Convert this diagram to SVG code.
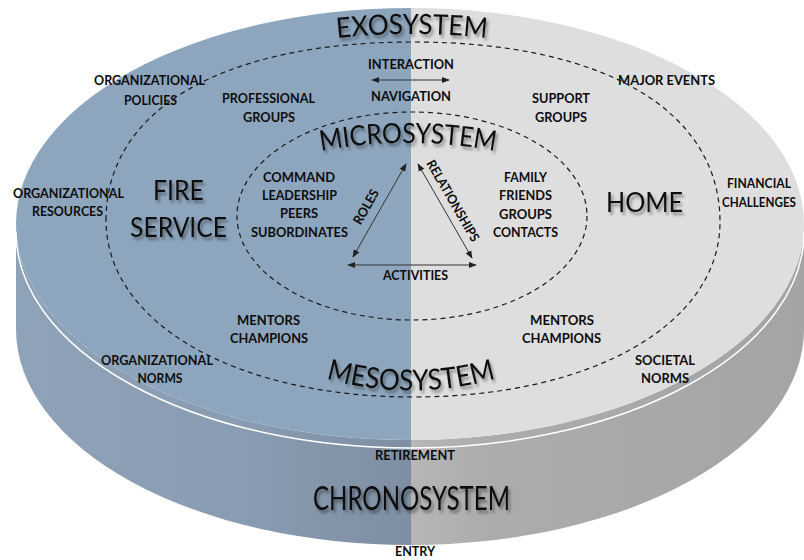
<svg xmlns="http://www.w3.org/2000/svg" width="804" height="560" viewBox="0 0 804 560">
<defs>
<style>
.s{font-family:Lato,"Open Sans","Liberation Sans",sans-serif;font-weight:700;font-size:13px;fill:#0d0d0d;text-anchor:middle}
.b{font-family:Lato,"Open Sans","Liberation Sans",sans-serif;font-weight:400;fill:#111;text-anchor:middle}
.dash{fill:none;stroke:#1a1a1a;stroke-width:1.2;stroke-dasharray:5 4}
.arr{fill:none;stroke:#333;stroke-width:1;marker-start:url(#ah);marker-end:url(#ah)}
</style>
<marker id="ah" viewBox="0 0 10 10" refX="9" refY="5" markerWidth="8" markerHeight="8" markerUnits="userSpaceOnUse" orient="auto-start-reverse">
<path d="M0,1 L10,5 L0,9 Z" fill="#222"/>
</marker>
<linearGradient id="wallL" x1="0" y1="0" x2="1" y2="0">
<stop offset="0" stop-color="#8fa3b8"/>
<stop offset="0.6" stop-color="#899bb0"/>
<stop offset="1" stop-color="#7e8fa3"/>
</linearGradient>
<linearGradient id="wallR" x1="0" y1="0" x2="1" y2="0">
<stop offset="0" stop-color="#b6b6b6"/>
<stop offset="0.2" stop-color="#acacac"/>
<stop offset="1" stop-color="#a4a4a4"/>
</linearGradient>
<filter id="sh" x="-10%" y="-30%" width="120%" height="160%">
<feDropShadow dx="2" dy="3" stdDeviation="1.8" flood-color="#000" flood-opacity="0.4"/>
</filter>
<path id="pExo" d="M312,41.1 A700,700 0 0 1 512,41.1"/>
<path id="pMic" d="M308,153.6 A473,473 0 0 1 508,153.6"/>
<path id="pMes" d="M311,373.8 A308,308 0 0 0 511,373.8"/>
</defs>

<g id="disc">
<path d="M16,224 L16,329 A394,216 0 0 0 411,545 L411,440 A394,216 0 0 1 16,224 Z" fill="url(#wallL)"/>
<path d="M411,440 L411,545 A394,216 0 0 0 804,329 L804,224 A394,216 0 0 1 411,440 Z" fill="url(#wallR)"/>
<path d="M411,8 A394,216 0 0 0 16,224 A394,216 0 0 0 411,440 Z" fill="#8ea6bd"/>
<path d="M411,8 A394,216 0 0 1 804,224 A394,216 0 0 1 411,440 Z" fill="#dedede"/>
<path d="M16,232 A394,216 0 0 0 804,232" fill="none" stroke="#fff" stroke-width="1.5"/>
</g>

<g id="rings">
<path class="dash" d="M106,220 C106,109.6 222.7,42 413,42 C603.3,42 720,110.4 720,222 C720,324.7 591,397 413,397 C235,397 106,322.7 106,220 Z"/>
<ellipse class="dash" cx="412" cy="216" rx="175" ry="104"/>
</g>

<g id="connectors">
<line class="arr" x1="372" y1="80" x2="449" y2="80"/>
<line class="arr" x1="353" y1="257" x2="406" y2="164"/>
<line class="arr" x1="418" y1="164" x2="472" y2="258"/>
<line class="arr" x1="348" y1="265" x2="476" y2="265"/>
</g>

<g id="exosystem">
<text class="b" font-size="28" filter="url(#sh)"><textPath href="#pExo" startOffset="50%" textLength="150" lengthAdjust="spacingAndGlyphs">EXOSYSTEM</textPath></text>
<text class="s" x="149.5" y="85" textLength="111" lengthAdjust="spacingAndGlyphs">ORGANIZATIONAL</text>
<text class="s" x="150.5" y="105" textLength="53" lengthAdjust="spacingAndGlyphs">POLICIES</text>
<text class="s" x="68.5" y="198" textLength="111" lengthAdjust="spacingAndGlyphs">ORGANIZATIONAL</text>
<text class="s" x="67.5" y="216" textLength="71" lengthAdjust="spacingAndGlyphs">RESOURCES</text>
<text class="s" x="157" y="365" textLength="112" lengthAdjust="spacingAndGlyphs">ORGANIZATIONAL</text>
<text class="s" x="160" y="383" textLength="45" lengthAdjust="spacingAndGlyphs">NORMS</text>
<text class="s" x="666.5" y="85" textLength="97" lengthAdjust="spacingAndGlyphs">MAJOR EVENTS</text>
<text class="s" x="759" y="188" textLength="64" lengthAdjust="spacingAndGlyphs">FINANCIAL</text>
<text class="s" x="759" y="207" textLength="74" lengthAdjust="spacingAndGlyphs">CHALLENGES</text>
<text class="s" x="665" y="365" textLength="60" lengthAdjust="spacingAndGlyphs">SOCIETAL</text>
<text class="s" x="665" y="383" textLength="48" lengthAdjust="spacingAndGlyphs">NORMS</text>
</g>

<g id="mesosystem">
<text class="b" font-size="29" filter="url(#sh)"><textPath href="#pMes" startOffset="50%" textLength="172" lengthAdjust="spacingAndGlyphs">MESOSYSTEM</textPath></text>
<text class="s" x="411" y="69" textLength="86" lengthAdjust="spacingAndGlyphs">INTERACTION</text>
<text class="s" x="411" y="101" textLength="80" lengthAdjust="spacingAndGlyphs">NAVIGATION</text>
<text class="s" x="268.5" y="103" textLength="93" lengthAdjust="spacingAndGlyphs">PROFESSIONAL</text>
<text class="s" x="269" y="121.5" textLength="52" lengthAdjust="spacingAndGlyphs">GROUPS</text>
<text class="s" x="561" y="103" textLength="58" lengthAdjust="spacingAndGlyphs">SUPPORT</text>
<text class="s" x="561" y="121.5" textLength="52" lengthAdjust="spacingAndGlyphs">GROUPS</text>
<text class="s" x="268.5" y="325" textLength="63" lengthAdjust="spacingAndGlyphs">MENTORS</text>
<text class="s" x="269" y="343" textLength="78" lengthAdjust="spacingAndGlyphs">CHAMPIONS</text>
<text class="s" x="562" y="325" textLength="64" lengthAdjust="spacingAndGlyphs">MENTORS</text>
<text class="s" x="561.5" y="343" textLength="79" lengthAdjust="spacingAndGlyphs">CHAMPIONS</text>
</g>

<g id="fire-service">
<text class="b" font-size="26" x="178.5" y="200" textLength="51" lengthAdjust="spacingAndGlyphs" filter="url(#sh)">FIRE</text>
<text class="b" font-size="26" x="178.5" y="237" textLength="97" lengthAdjust="spacingAndGlyphs" filter="url(#sh)">SERVICE</text>
</g>

<g id="home">
<text class="b" font-size="26" x="644.5" y="212" textLength="77" lengthAdjust="spacingAndGlyphs" filter="url(#sh)">HOME</text>
</g>

<g id="microsystem">
<text class="b" font-size="28" filter="url(#sh)"><textPath href="#pMic" startOffset="50%" textLength="175" lengthAdjust="spacingAndGlyphs">MICROSYSTEM</textPath></text>
<text class="s" x="299" y="182" textLength="72" lengthAdjust="spacingAndGlyphs">COMMAND</text>
<text class="s" x="299.5" y="200" textLength="75" lengthAdjust="spacingAndGlyphs">LEADERSHIP</text>
<text class="s" x="299" y="218" textLength="38" lengthAdjust="spacingAndGlyphs">PEERS</text>
<text class="s" x="299.5" y="237" textLength="97" lengthAdjust="spacingAndGlyphs">SUBORDINATES</text>
<text class="s" x="525.5" y="182" textLength="43" lengthAdjust="spacingAndGlyphs">FAMILY</text>
<text class="s" x="525.5" y="200" textLength="53" lengthAdjust="spacingAndGlyphs">FRIENDS</text>
<text class="s" x="525.5" y="219" textLength="53" lengthAdjust="spacingAndGlyphs">GROUPS</text>
<text class="s" x="525.5" y="237" textLength="65" lengthAdjust="spacingAndGlyphs">CONTACTS</text>
<text class="s" transform="translate(370,209) rotate(-60)" x="0" y="0" font-size="12" textLength="38" lengthAdjust="spacingAndGlyphs">ROLES</text>
<text class="s" transform="translate(449,203) rotate(60)" x="0" y="0" font-size="12" textLength="92" lengthAdjust="spacingAndGlyphs">RELATIONSHIPS</text>
<text class="s" x="415.5" y="280" textLength="65" lengthAdjust="spacingAndGlyphs">ACTIVITIES</text>
</g>

<g id="chronosystem">
<text class="s" x="415" y="460" textLength="80" lengthAdjust="spacingAndGlyphs">RETIREMENT</text>
<text class="b" font-size="32" x="411.5" y="510" textLength="197" lengthAdjust="spacingAndGlyphs" filter="url(#sh)">CHRONOSYSTEM</text>
<text class="s" x="415" y="556" textLength="40" lengthAdjust="spacingAndGlyphs">ENTRY</text>
</g>
</svg>
